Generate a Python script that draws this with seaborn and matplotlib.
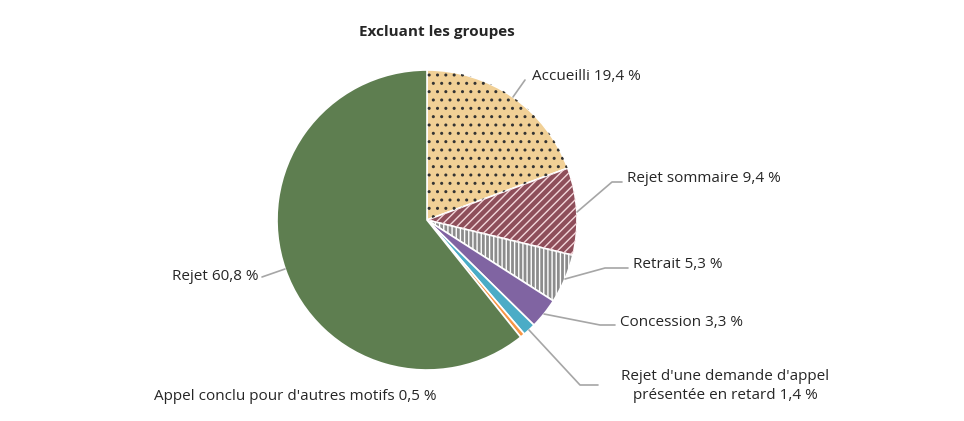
import matplotlib
matplotlib.use("Agg")
import matplotlib.pyplot as plt
import seaborn as sns

sns.set_theme(style="white")
plt.rcParams['font.family'] = ['Open Sans', 'DejaVu Sans']

categories = ["Accueilli", "Rejet sommaire", "Retrait", "Concession",
              "Rejet d'une demande d'appel\nprésentée en retard", "Appel conclu pour d'autres motifs", "Rejet"]
values = [19.4, 9.4, 5.3, 3.3, 1.4, 0.5, 60.8]
colors = ["#F1D096", "#8E4E5A", "#8C8C8C", "#8064A2", "#4BACC6", "#F79646", "#5E7E50"]
hatches = ["..", "////", "||||", None, None, None, None]
hatch_colors = ["#333333", "#F2D6DA", "white", None, None, None, None]

fig = plt.figure(figsize=(9.64, 4.21), dpi=100)
ax = fig.add_axes([(427 - 150) / 964, (421 - 370) / 421, 300 / 964, 300 / 421])
wedges, _ = ax.pie(values, colors=colors, startangle=90, counterclock=False,
                   wedgeprops=dict(edgecolor="white", linewidth=1.2))
w2, _ = ax.pie(values, colors=["none"] * len(values), startangle=90, counterclock=False,
               wedgeprops=dict(linewidth=0))
for w, h, hc in zip(w2, hatches, hatch_colors):
    if h:
        w.set_hatch(h)
        w.set_edgecolor(hc)
    else:
        w.set_visible(False)
plt.rcParams['hatch.linewidth'] = 1.5
ax.set_xlim(-1, 1); ax.set_ylim(-1, 1); ax.set_aspect("equal")

def d(x, y):
    return ((x - 427) / 150, (220 - y) / 150)

lines = [
    [(513, 97), (525, 80)],
    [(577, 212), (612, 182), (622, 182)],
    [(565, 279), (605, 268), (628, 268)],
    [(544, 314), (600, 325), (615, 325)],
    [(529, 330), (580, 385), (598, 385)],
    None,
    [(285, 269), (262, 277)],
]
for pts in lines:
    if pts:
        xs, ys = zip(*[d(*p) for p in pts])
        ax.plot(xs, ys, color="#A6A6A6", lw=1.2, clip_on=False)

labels = [f"{c} {str(v).replace('.', ',')} %" for c, v in zip(categories, values)]
fs = 11
fig.text(532 / 964, 1 - 77 / 421, labels[0], ha="left", va="center", fontsize=fs)
fig.text(627 / 964, 1 - 178 / 421, labels[1], ha="left", va="center", fontsize=fs)
fig.text(633 / 964, 1 - 265 / 421, labels[2], ha="left", va="center", fontsize=fs)
fig.text(620 / 964, 1 - 322 / 421, labels[3], ha="left", va="center", fontsize=fs)
fig.text(725 / 964, 1 - 386 / 421, labels[4], ha="center", va="center", fontsize=fs, linespacing=1.4)
fig.text(295 / 964, 1 - 396 / 421, labels[5], ha="center", va="center", fontsize=fs)
fig.text(258 / 964, 1 - 277 / 421, labels[6], ha="right", va="center", fontsize=fs)
fig.text(437 / 964, 1 - 32 / 421, "Excluant les groupes", ha="center", va="center",
         fontsize=11, fontweight="bold")

fig.savefig("out.png", dpi=100)
